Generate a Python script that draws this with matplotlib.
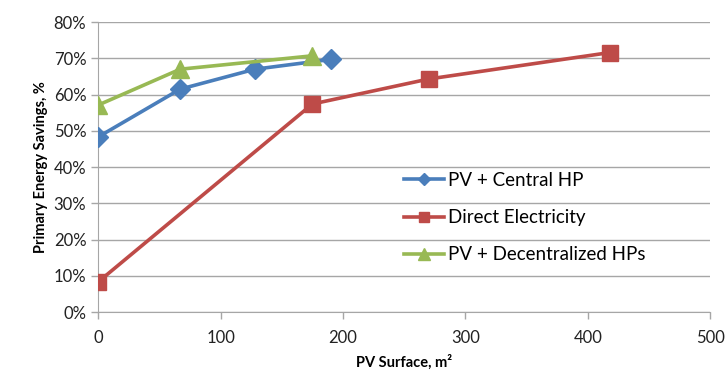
"""Primary energy savings vs PV surface, three supply options."""

import matplotlib
matplotlib.use("Agg")
import matplotlib.pyplot as plt
from matplotlib.ticker import PercentFormatter

plt.rcParams['font.family'] = ['Lato', 'DejaVu Sans']

# data
central_hp_x = [0, 67, 128, 190]
central_hp_y = [48.3, 61.5, 67.0, 69.7]
direct_x = [0, 175, 270, 418]
direct_y = [8.3, 57.4, 64.3, 71.6]
decentral_x = [0, 67, 175]
decentral_y = [57.1, 67.0, 70.7]

blue = "#4A7EBB"
red = "#BE4B48"
green = "#98B954"
grid_grey = "#A6A6A6"

fig = plt.figure(figsize=(7.27, 3.81), dpi=100)
ax = fig.add_axes([0.135, 0.181, 0.842, 0.761])

ax.plot(central_hp_x, central_hp_y, color=blue, linewidth=2.6, marker="D",
        markersize=10, label="PV + Central HP", zorder=3)
ax.plot(direct_x, direct_y, color=red, linewidth=2.6, marker="s",
        markersize=12, label="Direct Electricity", zorder=3)
ax.plot(decentral_x, decentral_y, color=green, linewidth=2.6, marker="^",
        markersize=13, label="PV + Decentralized HPs", zorder=4)

ax.set_xlim(0, 500)
ax.set_ylim(0, 80)
ax.set_xticks(range(0, 501, 100))
ax.set_yticks(range(0, 81, 10))
ax.yaxis.set_major_formatter(PercentFormatter(decimals=0))
ax.tick_params(labelsize=12, colors="#222222", length=5, width=1)
ax.tick_params(axis="both", color=grid_grey)
ax.tick_params(axis="x", pad=8)

ax.grid(axis="y", color=grid_grey, linewidth=1)
ax.set_axisbelow(True)
for side in ["top", "right"]:
    ax.spines[side].set_visible(False)
for side in ["left", "bottom"]:
    ax.spines[side].set_color(grid_grey)

ax.set_xlabel("PV Surface, m²", fontsize=10.5, fontweight="bold", labelpad=6)
ax.set_ylabel("Primary Energy Savings, %", fontsize=10.5, fontweight="bold", labelpad=4)

ax.legend(loc="upper left", bbox_to_anchor=(0.5, 0.483), frameon=False,
          fontsize=13.5, handlelength=2.1, handletextpad=0.25, labelspacing=1.08,
          markerscale=0.65, borderaxespad=0, borderpad=0)

fig.savefig("out.png", dpi=100)
